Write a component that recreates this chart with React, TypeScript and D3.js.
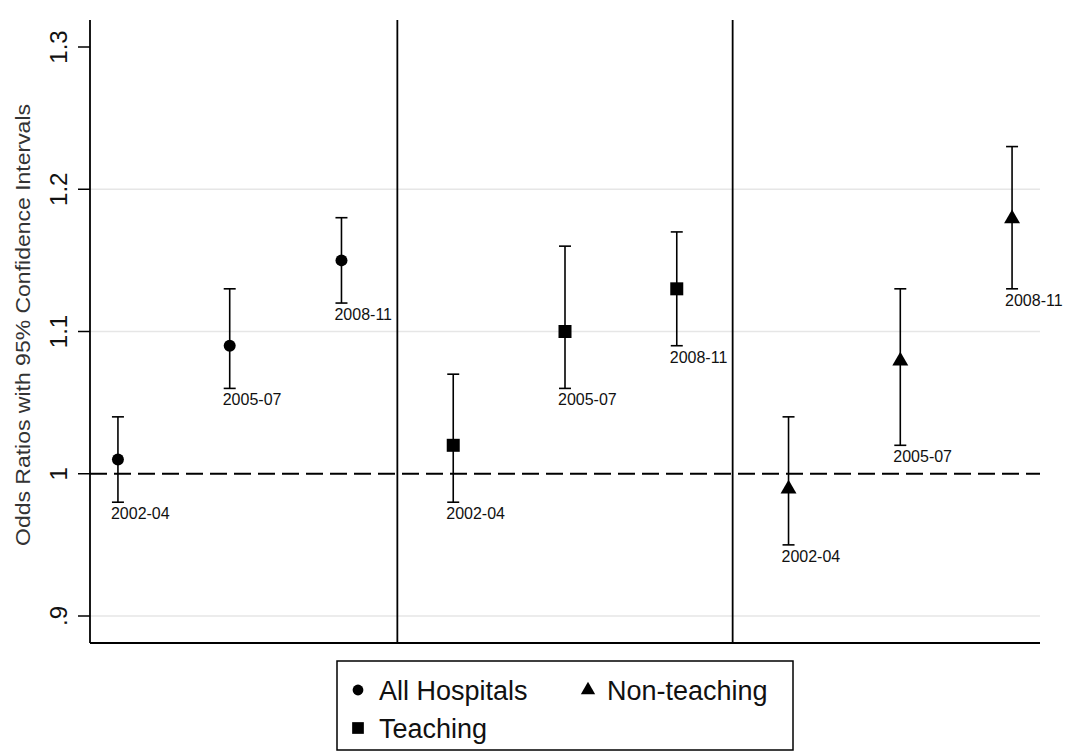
import React from "react";
import * as d3 from "d3";

const groups = ["All Hospitals", "Teaching", "Non-teaching"];
const periods = ["2002-04", "2005-07", "2008-11"];
const allEst = [1.01, 1.09, 1.15];
const allLo = [0.98, 1.06, 1.12];
const allHi = [1.04, 1.13, 1.18];
const teachEst = [1.02, 1.10, 1.13];
const teachLo = [0.98, 1.06, 1.09];
const teachHi = [1.07, 1.16, 1.17];
const nonEst = [0.99, 1.08, 1.18];
const nonLo = [0.95, 1.02, 1.13];
const nonHi = [1.04, 1.13, 1.23];
const yTicks = [0.9, 1.0, 1.1, 1.2, 1.3];
const yTickLabels = [".9", "1", "1.1", "1.2", "1.3"];
const gridTicks = [0.9, 1.1, 1.2];
const separators = [3.5, 6.5];

const W = 1066, H = 753;
const left = 90, right = 1040, top = 20, bottom = 643;

export default function App() {
  const x = d3.scaleLinear().domain([0.75, 9.25]).range([left, right]);
  const y = d3.scaleLinear().domain([0.9, 1.3]).range([616, 47]);
  const series = [
    { shape: "circle", est: allEst, lo: allLo, hi: allHi },
    { shape: "square", est: teachEst, lo: teachLo, hi: teachHi },
    { shape: "triangle", est: nonEst, lo: nonLo, hi: nonHi },
  ];
  const font = "Liberation Sans, Arial, sans-serif";
  const marker = (shape: string, cx: number, cy: number, s = 1) => {
    if (shape === "circle") return <circle cx={cx} cy={cy} r={6 * s} fill="#000" />;
    if (shape === "square") return <rect x={cx - 6.5 * s} y={cy - 6.5 * s} width={13 * s} height={13 * s} fill="#000" />;
    const sym = d3.symbol().type(d3.symbolTriangle).size(110 * s * s)();
    return <path d={sym || ""} transform={`translate(${cx},${cy + 1})`} fill="#000" />;
  };
  const capW = 10;
  return (
    <svg width={W} height={H} style={{ position: "absolute", left: 0, top: 0, background: "#fff" }}>
      <rect width={W} height={H} fill="#fff" />
      {gridTicks.map((t) => (
        <line key={t} x1={left} x2={right} y1={y(t)} y2={y(t)} stroke="#e6e6e6" strokeWidth={1.5} />
      ))}
      <line x1={left} x2={right} y1={y(1)} y2={y(1)} stroke="#000" strokeWidth={2} strokeDasharray="17,7" />
      {separators.map((s) => (
        <line key={s} x1={x(s)} x2={x(s)} y1={top} y2={bottom} stroke="#000" strokeWidth={1.8} />
      ))}
      <line x1={left} x2={left} y1={top} y2={bottom} stroke="#000" strokeWidth={1.8} />
      <line x1={left} x2={right} y1={bottom} y2={bottom} stroke="#000" strokeWidth={1.8} />
      {yTicks.map((t, i) => (
        <g key={t}>
          <line x1={left - 12} x2={left} y1={y(t)} y2={y(t)} stroke="#000" strokeWidth={1.5} />
          <text
            transform={`translate(${left - 23},${y(t)}) rotate(-90)`}
            textAnchor="middle"
            fontFamily={font}
            fontSize={24}
            fill="#111"
          >
            {yTickLabels[i]}
          </text>
        </g>
      ))}
      <text
        transform={`translate(30,325) rotate(-90)`}
        textAnchor="middle"
        fontFamily={font}
        fontSize={21}
        textLength={442}
        lengthAdjust="spacingAndGlyphs"
        fill="#333"
      >
        Odds Ratios with 95% Confidence Intervals
      </text>
      {series.map((s, gi) =>
        periods.map((p, pi) => {
          const cx = x(gi * 3 + pi + 1);
          return (
            <g key={`${gi}-${pi}`}>
              <line x1={cx} x2={cx} y1={y(s.hi[pi])} y2={y(s.lo[pi])} stroke="#000" strokeWidth={1.6} />
              <line x1={cx - capW / 2 - 1} x2={cx + capW / 2 + 1} y1={y(s.hi[pi])} y2={y(s.hi[pi])} stroke="#000" strokeWidth={1.6} />
              <line x1={cx - capW / 2 - 1} x2={cx + capW / 2 + 1} y1={y(s.lo[pi])} y2={y(s.lo[pi])} stroke="#000" strokeWidth={1.6} />
              {marker(s.shape, cx, y(s.est[pi]))}
              <text x={cx - 7} y={y(s.lo[pi]) + 17} fontFamily={font} fontSize={16} fill="#111">
                {p}
              </text>
            </g>
          );
        })
      )}
      <rect x={337} y={661} width={456} height={89} fill="#fff" stroke="#000" strokeWidth={1.5} />
      {marker("circle", 358, 690, 0.9)}
      <text x={379} y={700} fontFamily={font} fontSize={27} fill="#111">{groups[0]}</text>
      {marker("triangle", 588, 689, 0.9)}
      <text x={607} y={700} fontFamily={font} fontSize={27} fill="#111">{groups[2]}</text>
      {marker("square", 358, 728, 0.9)}
      <text x={379} y={738} fontFamily={font} fontSize={27} fill="#111">{groups[1]}</text>
    </svg>
  );
}
